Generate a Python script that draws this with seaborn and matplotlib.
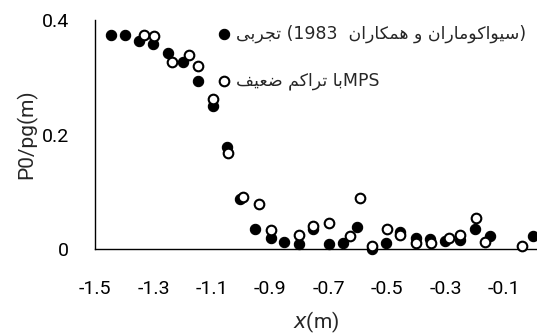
import numpy as np
import pandas as pd
import matplotlib
matplotlib.use("Agg")
import matplotlib.pyplot as plt
import seaborn as sns

# ==========================================
# Data
# ==========================================

# experiment (filled circles)
exp_x = [-1.446, -1.398, -1.349, -1.301, -1.251, -1.199, -1.146, -1.098,
         -1.049, -1.004, -0.954, -0.899, -0.852, -0.801, -0.754, -0.701,
         -0.651, -0.603, -0.552, -0.503, -0.456, -0.403, -0.353, -0.303,
         -0.250, -0.201, -0.148, -0.003]
exp_y = [0.373, 0.373, 0.364, 0.358, 0.342, 0.326, 0.294, 0.249,
         0.178, 0.087, 0.035, 0.020, 0.013, 0.008, 0.035, 0.009,
         0.011, 0.038, 0.000, 0.010, 0.029, 0.020, 0.017, 0.014,
         0.016, 0.035, 0.022, 0.022]

# MPS (open circles)
mps_x = [-1.334, -1.299, -1.235, -1.180, -1.146, -1.096, -1.045, -0.995,
         -0.940, -0.899, -0.801, -0.754, -0.701, -0.626, -0.592, -0.551,
         -0.501, -0.456, -0.401, -0.351, -0.289, -0.250, -0.196, -0.167,
         -0.040]
mps_y = [0.373, 0.372, 0.326, 0.338, 0.320, 0.262, 0.168, 0.091,
         0.079, 0.033, 0.024, 0.041, 0.045, 0.023, 0.089, 0.005,
         0.035, 0.025, 0.010, 0.010, 0.020, 0.024, 0.055, 0.013,
         0.005]

x_ticks = [-1.5, -1.3, -1.1, -0.9, -0.7, -0.5, -0.3, -0.1]
x_tick_labels = ["-1.5", "-1.3", "-1.1", "-0.9", "-0.7", "-0.5", "-0.3", "-0.1"]
y_ticks = [0, 0.2, 0.4]
y_tick_labels = ["0", "0.2", "0.4"]

# legend labels: persian words pre-shaped, glyphs in visual (left to right) order
w_tajrobi = "\ufef0\ufe91\ufeae\ufea0\ufe97"                               # تجربی
w_hamkaran = "\ufee5\ufe8d\ufead\ufe8e\ufedc\ufee4\ufeeb"                  # همکاران
w_sivak = "\ufee5\ufe8d\ufead\ufe8e\ufee3\ufeee\ufb90\ufe8d\ufeee\ufbff\ufeb3"  # سیواکوماران
w_ba = "\ufe8e\ufe91"                                                      # با
w_tarakom = "\ufee2\ufedb\ufe8d\ufeae\ufe97"                               # تراکم
w_zaeef = "\ufed2\ufef4\ufecc\ufebf"                                       # ضعیف

label_exp = w_tajrobi + " (1983  " + w_hamkaran + " \ufeed " + w_sivak + ")"
label_mps = w_zaeef + " " + w_tarakom + " " + w_ba + "MPS"

exp_df = pd.DataFrame({"x": exp_x, "y": exp_y})
mps_df = pd.DataFrame({"x": mps_x, "y": mps_y})

# ==========================================
# Plot
# ==========================================

sns.set_style("white")
plt.rcParams["font.family"] = ["Roboto", "DejaVu Sans"]

fig = plt.figure(figsize=(5.37, 3.36), dpi=100)
ax = fig.add_axes([95 / 537, 87 / 336, 442 / 537, 229 / 336])

sns.scatterplot(data=exp_df, x="x", y="y", ax=ax, color="black",
                edgecolor="black", s=55, linewidth=0.8, label=label_exp,
                zorder=3, clip_on=False)
sns.scatterplot(data=mps_df, x="x", y="y", ax=ax, color="white",
                edgecolor="black", s=48, linewidth=1.5, label=label_mps,
                zorder=4, clip_on=False)

ax.set_xlim(-1.5, 0.012)
ax.set_ylim(0, 0.4)

ax.set_xticks(x_ticks)
ax.set_xticklabels(x_tick_labels)
ax.set_yticks(y_ticks)
ax.set_yticklabels(y_tick_labels)
ax.tick_params(axis="x", direction="out", length=4.5, width=1,
               color="#808080", labelsize=14, labelcolor="black", pad=18)
ax.tick_params(axis="y", direction="out", length=6.5, width=1,
               color="#808080", labelsize=14, labelcolor="black", pad=12)

for side in ["top", "right"]:
    ax.spines[side].set_visible(False)
for side in ["left", "bottom"]:
    ax.spines[side].set_color("black")
    ax.spines[side].set_linewidth(1)

ax.set_xlabel("$\\it{x}$(m)", fontsize=15, labelpad=8)
ax.set_ylabel("P0/pg(m)", fontsize=15)
ax.yaxis.set_label_coords(-0.131, 0.5)

leg = ax.legend(loc="upper left", bbox_to_anchor=(0.253, 1.012),
                frameon=False, handletextpad=0.1, handlelength=1.2,
                labelspacing=1.66, borderaxespad=0,
                prop={"family": ["DejaVu Sans"], "size": 12.5})

fig.savefig("out.png", dpi=100)
